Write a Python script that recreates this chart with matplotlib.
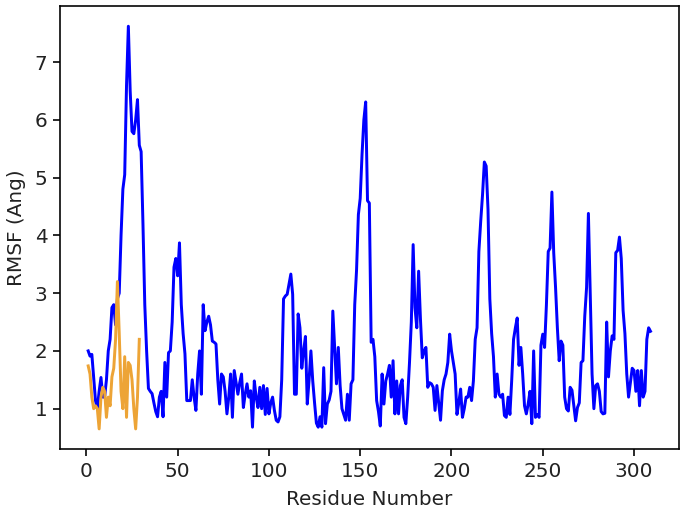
import matplotlib
matplotlib.use("Agg")
import matplotlib.pyplot as plt

# RMSF per residue
rmsf_a = [
    2.0, 1.91, 1.94, 1.54, 1.14, 1.0, 1.3, 1.54, 1.2, 1.2,
    1.5, 2.0, 2.2, 2.75, 2.8, 2.45, 2.9, 3.0, 4.0, 4.8,
    5.05, 6.6, 7.62, 6.5, 5.8, 5.76, 6.0, 6.35, 5.56, 5.45,
    4.2, 2.8, 2.0, 1.35, 1.3, 1.26, 1.1, 0.95, 0.86, 1.2,
    1.3, 0.86, 1.8, 1.2, 1.97, 2.0, 2.5, 3.45, 3.6, 3.3,
    3.87, 2.8, 2.3, 1.95, 1.14, 1.14, 1.14, 1.5, 1.2, 0.97,
    1.6, 2.0, 1.25, 2.8, 2.35, 2.5, 2.6, 2.45, 2.17, 2.15,
    2.12, 1.5, 1.08, 1.6, 1.55, 1.3, 0.91, 1.2, 1.6, 0.85,
    1.66, 1.45, 1.25, 1.45, 1.6, 1.02, 1.25, 1.43, 1.2, 1.31,
    0.68, 1.48, 1.2, 1.02, 1.37, 1.0, 1.4, 0.9, 1.35, 0.91,
    1.1, 1.2, 0.97, 0.8, 0.77, 0.86, 1.5, 2.9, 2.95, 2.98,
    3.15, 3.33, 2.98, 1.25, 1.25, 2.64, 2.4, 1.7, 2.0, 2.25,
    1.08, 1.5, 2.0, 1.48, 1.1, 0.75, 0.68, 0.86, 0.68, 1.71,
    0.74, 1.08, 1.15, 1.3, 2.69, 2.06, 1.43, 2.06, 1.4, 1.0,
    0.9, 0.8, 1.25, 0.8, 1.43, 1.5, 2.8, 3.4, 4.36, 4.64,
    5.4, 6.0, 6.31, 4.6, 4.56, 2.15, 2.2, 1.9, 1.14, 0.95,
    0.7, 1.6, 1.08, 1.48, 1.6, 1.75, 1.2, 1.83, 0.91, 1.48,
    0.91, 1.4, 1.5, 0.85, 0.74, 1.2, 1.8, 2.5, 3.84, 2.75,
    2.4, 3.38, 2.55, 1.88, 2.0, 2.06, 1.37, 1.45, 1.43, 1.37,
    0.97, 1.4, 1.1, 0.8, 1.31, 1.5, 1.6, 1.8, 2.29, 2.0,
    1.8, 1.6, 0.9, 1.1, 1.34, 0.85, 1.0, 1.2, 1.2, 1.37,
    1.14, 1.48, 2.2, 2.4, 3.72, 4.24, 4.7, 5.27, 5.2, 4.45,
    2.9, 2.3, 1.9, 1.2, 1.6, 1.25, 1.2, 1.25, 0.88, 0.85,
    1.2, 0.9, 1.5, 2.2, 2.4, 2.57, 1.75, 2.06, 1.6, 1.05,
    0.91, 1.08, 1.3, 0.74, 2.0, 0.85, 0.9, 0.85, 2.1, 2.29,
    2.06, 2.8, 3.72, 3.78, 4.75, 3.7, 3.1, 2.4, 1.83, 2.17,
    2.1, 1.2, 1.0, 0.96, 1.37, 1.32, 1.05, 0.79, 1.02, 1.1,
    1.8, 1.83, 2.6, 3.1, 4.38, 3.0, 1.6, 1.0, 1.4, 1.43,
    1.3, 0.95, 0.91, 0.92, 2.5, 1.55, 2.0, 2.26, 2.2, 3.7,
    3.74, 3.97, 3.6, 2.7, 2.3, 1.6, 1.2, 1.45, 1.7, 1.66,
    1.3, 1.66, 1.05, 1.66, 1.2, 1.3, 2.2, 2.4, 2.34,
]
rmsf_b = [
    1.74, 1.6, 1.2, 1.0, 1.05, 1.0, 0.65, 1.2, 1.37, 1.3,
    0.85, 1.2, 1.05, 1.55, 1.7, 2.2, 3.2, 2.3, 1.3, 1.0,
    1.9, 0.85, 1.8, 1.75, 1.5, 1.0, 0.65, 1.2, 2.2,
]

res_a = list(range(1, len(rmsf_a) + 1))
res_b = list(range(1, len(rmsf_b) + 1))

plt.rcParams['font.size'] = 13.5
plt.rcParams['text.color'] = '#222222'
plt.rcParams['axes.labelcolor'] = '#222222'
plt.rcParams['xtick.labelcolor'] = '#222222'
plt.rcParams['ytick.labelcolor'] = '#222222'
plt.rcParams['axes.linewidth'] = 1.1
plt.rcParams['xtick.major.size'] = 5
plt.rcParams['ytick.major.size'] = 5
plt.rcParams['xtick.major.width'] = 1.1
plt.rcParams['ytick.major.width'] = 1.1

fig = plt.figure(figsize=(6.4, 4.8), dpi=106.67)
plt.plot(res_a, rmsf_a, color='#0000ff', linewidth=2.0)
plt.plot(res_b, rmsf_b, color='#eda436', linewidth=2.0)
plt.xlabel('Residue Number', labelpad=6)
plt.ylabel('RMSF (Ang)', labelpad=6)
plt.subplots_adjust(left=0.088, right=0.994, top=0.988, bottom=0.123)
plt.savefig('out.png')
